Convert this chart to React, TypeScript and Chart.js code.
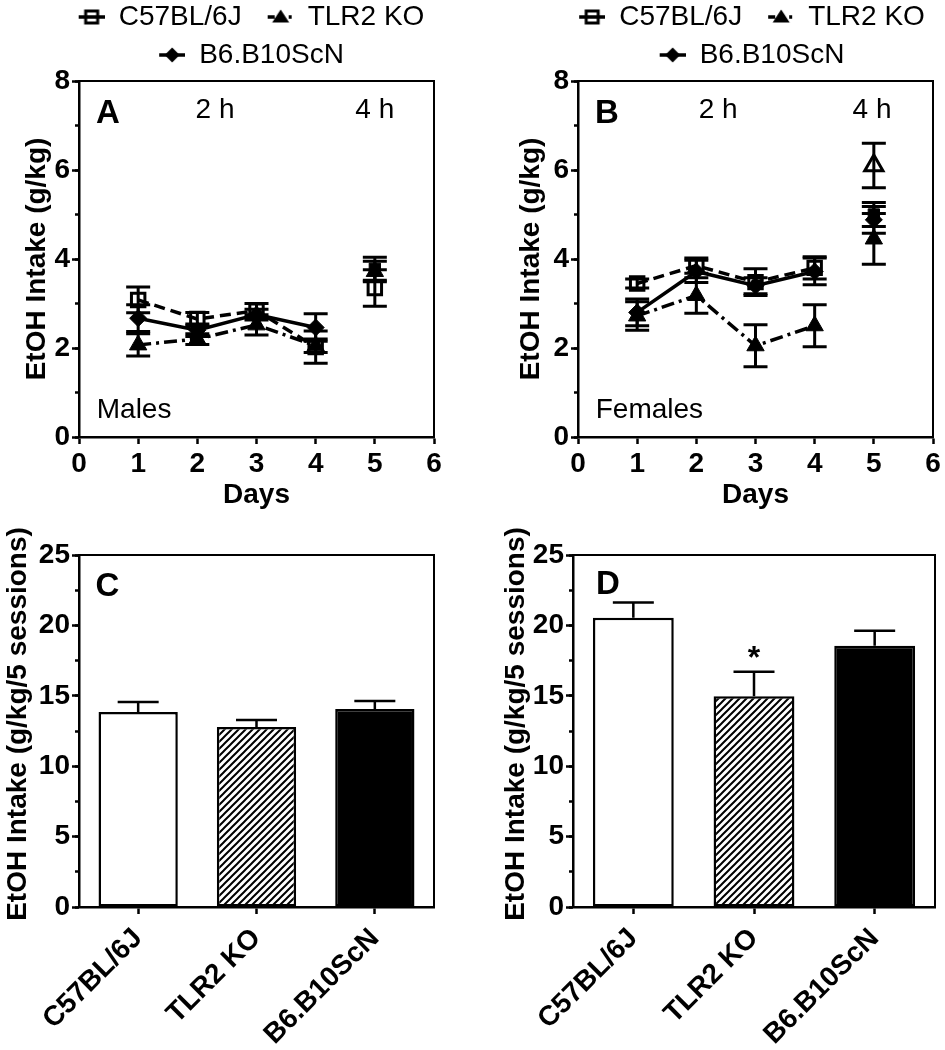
import React, { useEffect, useRef } from 'react';
import { Chart, registerables } from 'chart.js';

Chart.register(...registerables);

const FONT = '"Liberation Sans", Arial, Helvetica, sans-serif';

// ---------------- data ----------------
const strains = ['C57BL/6J', 'TLR2 KO', 'B6.B10ScN'];
const sessionDays = [1, 2, 3, 4];
const fourHourDay = 5;

// Panel A – males, 2 h sessions (days 1-4)
const maleC57 = [3.08, 2.65, 2.84, 2.02];
const maleC57Sem = [0.29, 0.15, 0.16, 0.36];
const maleTlr2 = [2.07, 2.2, 2.52, 2.05];
const maleTlr2Sem = [0.25, 0.12, 0.23, 0.15];
const maleB6 = [2.67, 2.4, 2.75, 2.46];
const maleB6Sem = [0.3, 0.14, 0.12, 0.31];
// Panel A – 4 h session (day 5)
const male4h = [3.35, 3.78, 3.72];
const male4hSem = [0.41, 0.26, 0.23];

// Panel B – females, 2 h sessions (days 1-4)
const femaleC57 = [3.45, 3.85, 3.48, 3.8];
const femaleC57Sem = [0.1, 0.17, 0.3, 0.25];
const femaleTlr2 = [2.72, 3.18, 2.05, 2.5];
const femaleTlr2Sem = [0.32, 0.4, 0.47, 0.47];
const femaleB6 = [2.8, 3.72, 3.4, 3.72];
const femaleB6Sem = [0.3, 0.25, 0.18, 0.3];
// Panel B – 4 h session (day 5)
const female4h = [6.1, 5.0, 4.88, 4.45];
const female4hSem = [0.5, 0.27, 0.3, 0.57];

// Panels C / D – total intake over 5 sessions
const maleTotals = [13.85, 12.78, 14.06];
const maleTotalsSem = [0.71, 0.5, 0.57];
const femaleTotals = [20.55, 14.97, 18.55];
const femaleTotalsSem = [1.07, 1.73, 1.07];

// ---------------- styles ----------------
type Marker = { style: string; filled: boolean; radius: number };
const seriesMarkers: Marker[] = [
  { style: 'rect', filled: false, radius: 9.5 },
  { style: 'triangle', filled: true, radius: 10 },
  { style: 'rectRot', filled: true, radius: 8.5 },
];
const seriesDash = [[11, 6], [13, 5, 3, 5], []];
const male4hMarkers: Marker[] = [
  { style: 'rect', filled: false, radius: 9.5 },
  { style: 'rect', filled: true, radius: 8 },
  { style: 'triangle', filled: true, radius: 10 },
];
const female4hMarkers: Marker[] = [
  { style: 'triangle', filled: false, radius: 10.5 },
  { style: 'rect', filled: true, radius: 8 },
  { style: 'rectRot', filled: true, radius: 8.5 },
  { style: 'triangle', filled: true, radius: 10 },
];

// ---------------- plugins ----------------
function drawErrors(chart: any, opts: any) {
  const ctx = chart.ctx;
  const yScale = chart.scales.y;
  const cap = opts.capWidth || 20;
  ctx.save();
  ctx.strokeStyle = '#000';
  ctx.lineWidth = opts.lineWidth || 2.5;
  ctx.setLineDash([]);
  chart.data.datasets.forEach((ds: any, di: number) => {
    const errs = ds.errors;
    if (!errs) return;
    const meta = chart.getDatasetMeta(di);
    meta.data.forEach((el: any, i: number) => {
      const raw = ds.data[i];
      const v = typeof raw === 'number' ? raw : raw.y;
      const e = errs[i];
      const x = el.x;
      const yTop = yScale.getPixelForValue(v + e);
      const yBot = yScale.getPixelForValue(opts.upOnly ? v : v - e);
      ctx.beginPath();
      ctx.moveTo(x, yBot);
      ctx.lineTo(x, yTop);
      ctx.moveTo(x - cap / 2, yTop);
      ctx.lineTo(x + cap / 2, yTop);
      if (!opts.upOnly) {
        ctx.moveTo(x - cap / 2, yBot);
        ctx.lineTo(x + cap / 2, yBot);
      }
      ctx.stroke();
    });
  });
  ctx.restore();
}

const errorBarPlugin = {
  id: 'errorBars',
  beforeDatasetsDraw(chart: any, _a: any, opts: any) {
    if (opts.phase === 'before') drawErrors(chart, opts);
  },
  afterDatasetsDraw(chart: any, _a: any, opts: any) {
    if (opts.phase === 'after') drawErrors(chart, opts);
  },
};

const textPlugin = {
  id: 'panelText',
  afterDraw(chart: any, _a: any, opts: any) {
    const ctx = chart.ctx;
    const area = chart.chartArea;
    (opts.items || []).forEach((it: any) => {
      ctx.save();
      ctx.font = `${it.bold ? 'bold ' : ''}${it.size}px ${FONT}`;
      ctx.fillStyle = '#000';
      ctx.textBaseline = 'middle';
      if (it.rotate) {
        const y = (area.top + area.bottom) / 2 + (it.dy || 0);
        ctx.translate(it.px, y);
        ctx.rotate(-Math.PI / 2);
        ctx.textAlign = 'center';
        ctx.fillText(it.text, 0, 0);
      } else {
        const x = chart.scales.x.getPixelForValue(it.x);
        const y = chart.scales.y.getPixelForValue(it.y);
        ctx.textAlign = it.align || 'center';
        ctx.fillText(it.text, x, y);
      }
      ctx.restore();
    });
  },
};

// ---------------- helpers ----------------
function legendSample(kind: number): HTMLCanvasElement {
  const c = document.createElement('canvas');
  c.width = 42;
  c.height = 24;
  const g = c.getContext('2d')!;
  g.strokeStyle = '#000';
  g.fillStyle = '#000';
  g.lineWidth = 3.5;
  const cx = 29;
  const cy = 12;
  g.beginPath();
  if (kind === 1) {
    g.moveTo(16, cy);
    g.lineTo(23, cy);
    g.moveTo(37, cy);
    g.lineTo(40, cy);
  } else {
    g.moveTo(16, cy);
    g.lineTo(42, cy);
  }
  g.stroke();
  if (kind === 0) {
    g.lineWidth = 3;
    g.strokeRect(cx - 6, cy - 6, 12, 12);
  } else if (kind === 1) {
    g.beginPath();
    g.moveTo(cx, cy - 7.5);
    g.lineTo(cx + 8.5, cy + 5.5);
    g.lineTo(cx - 8.5, cy + 5.5);
    g.closePath();
    g.fill();
  } else {
    g.beginPath();
    g.moveTo(cx, cy - 7.5);
    g.lineTo(cx + 7.5, cy);
    g.lineTo(cx, cy + 7.5);
    g.lineTo(cx - 7.5, cy);
    g.closePath();
    g.fill();
  }
  return c;
}

function makeHatch(ctx: CanvasRenderingContext2D): CanvasPattern {
  const s = 7;
  const c = document.createElement('canvas');
  c.width = s;
  c.height = s;
  const g = c.getContext('2d')!;
  g.fillStyle = '#fff';
  g.fillRect(0, 0, s, s);
  g.strokeStyle = '#000';
  g.lineWidth = 2;
  g.beginPath();
  g.moveTo(-1, s + 1);
  g.lineTo(s + 1, -1);
  g.moveTo(-1, 1);
  g.lineTo(1, -1);
  g.moveTo(s - 1, s + 1);
  g.lineTo(s + 1, s - 1);
  g.stroke();
  return ctx.createPattern(c, 'repeat')!;
}

const tickFont = { family: FONT, size: 28, weight: 'bold' as const };
const axisGrid = {
  display: true,
  drawOnChartArea: false,
  drawTicks: true,
  tickLength: 7,
  tickWidth: 2.5,
  tickColor: '#000',
};
const axisBorder = { display: true, color: '#000', width: 2.5 };

function minorAxis(max: number, step: number) {
  return {
    type: 'linear',
    position: 'left',
    display: true,
    weight: -1,
    min: 0,
    max,
    ticks: { display: false, stepSize: step, autoSkip: false },
    grid: { display: true, drawOnChartArea: false, drawTicks: true, tickLength: 4, tickWidth: 2.5, tickColor: '#000' },
    border: { display: false },
    afterFit: (s: any) => {
      s.width = 0;
    },
  };
}

function frameAxes(topHeight: number, rightWidth: number) {
  return {
    x2: {
      type: 'linear',
      position: 'top',
      display: true,
      min: 0,
      max: 1,
      ticks: { display: false },
      grid: { display: false },
      border: { display: true, color: '#000', width: 2 },
      afterFit: (s: any) => {
        s.height = topHeight;
      },
    },
    y2: {
      type: 'linear',
      position: 'right',
      display: true,
      min: 0,
      max: 1,
      ticks: { display: false },
      grid: { display: false },
      border: { display: true, color: '#000', width: 2 },
      afterFit: (s: any) => {
        s.width = rightWidth;
      },
    },
  };
}

function markerProps(m: Marker) {
  return {
    pointStyle: m.style,
    pointRadius: m.radius,
    pointHoverRadius: m.radius,
    pointBorderWidth: m.filled ? 1 : 3,
    pointBorderColor: '#000',
    pointBackgroundColor: m.filled ? '#000' : 'rgba(255,255,255,0)',
  };
}

type LineSpec = {
  series: number[][];
  sems: number[][];
  fh: number[];
  fhSem: number[];
  fhMarkers: Marker[];
  padLeft: number;
  yWidth: number;
  titlePad: number;
  rightWidth: number;
  texts: any[];
};

function lineConfig(p: LineSpec): any {
  const lineSets = p.series.map((vals, si) => ({
    label: strains[si],
    xAxisID: 'x',
    yAxisID: 'y',
    data: sessionDays.map((d, i) => ({ x: d, y: vals[i] })),
    errors: p.sems[si],
    borderColor: '#000',
    borderWidth: 3.5,
    borderDash: seriesDash[si],
    showLine: true,
    fill: false,
    tension: 0,
    clip: false,
    ...markerProps(seriesMarkers[si]),
  }));
  const fhSets = p.fh.map((v, i) => ({
    label: '4 h',
    xAxisID: 'x',
    yAxisID: 'y',
    data: [{ x: fourHourDay, y: v }],
    errors: [p.fhSem[i]],
    showLine: false,
    borderColor: '#000',
    clip: false,
    ...markerProps(p.fhMarkers[i]),
  }));
  const samples = [0, 1, 2].map((k) => legendSample(k));
  return {
    type: 'line',
    data: { datasets: [...lineSets, ...fhSets] },
    plugins: [errorBarPlugin, textPlugin],
    options: {
      responsive: false,
      animation: false,
      devicePixelRatio: 1,
      events: [],
      layout: { autoPadding: false, padding: { left: p.padLeft, right: 0, top: 0, bottom: 0 } },
      plugins: {
        tooltip: { enabled: false },
        legend: {
          display: true,
          position: 'top',
          align: 'center',
          labels: {
            usePointStyle: true,
            pointStyleWidth: 42,
            padding: 10,
            color: '#000',
            font: { family: FONT, size: 28 },
            generateLabels: () =>
              strains.map((s, i) => ({
                text: s,
                pointStyle: samples[i],
                fillStyle: '#000',
                strokeStyle: '#000',
                lineWidth: 0,
                hidden: false,
                datasetIndex: i,
                fontColor: '#000',
              })),
          },
        },
        errorBars: { phase: 'before', capWidth: 24, lineWidth: 3 },
        panelText: { items: p.texts },
      },
      scales: {
        x: {
          type: 'linear',
          position: 'bottom',
          min: 0,
          max: 6,
          afterFit: (s: any) => {
            s.height = 83;
          },
          ticks: { stepSize: 1, color: '#000', font: tickFont, padding: 3, maxRotation: 0, autoSkip: false },
          grid: axisGrid,
          border: axisBorder,
          title: {
            display: true,
            text: 'Days',
            color: '#000',
            font: tickFont,
            padding: { top: 0, bottom: 8 },
          },
        },
        y: {
          type: 'linear',
          position: 'left',
          min: 0,
          max: 8,
          afterFit: (s: any) => {
            s.width = p.yWidth;
          },
          ticks: {
            stepSize: 2,
            autoSkip: false,
            color: '#000',
            font: tickFont,
            padding: 2,
          },
          grid: axisGrid,
          border: axisBorder,
          title: {
            display: true,
            text: 'EtOH Intake (g/kg)',
            color: '#000',
            font: tickFont,
            padding: { top: p.titlePad, bottom: 0 },
          },
        },
        yMinor: minorAxis(8, 1),
        ...frameAxes(2, p.rightWidth),
      },
    },
  };
}

type BarSpec = {
  totals: number[];
  sems: number[];
  yWidth: number;
  rightWidth: number;
  titleX: number;
  texts: any[];
};

function barConfig(p: BarSpec, ctx: CanvasRenderingContext2D): any {
  const hatch = makeHatch(ctx);
  return {
    type: 'bar',
    data: {
      labels: strains,
      datasets: [
        {
          xAxisID: 'x',
          yAxisID: 'y',
          data: p.totals,
          errors: p.sems,
          backgroundColor: ['#ffffff', hatch, '#000000'],
          borderColor: '#000',
          borderWidth: 2.5,
          borderSkipped: false,
          barPercentage: 0.67,
          categoryPercentage: 1,
        },
      ],
    },
    plugins: [errorBarPlugin, textPlugin],
    options: {
      responsive: false,
      animation: false,
      devicePixelRatio: 1,
      events: [],
      layout: { autoPadding: false, padding: { left: 0, right: 0, top: 35, bottom: 0 } },
      plugins: {
        tooltip: { enabled: false },
        legend: { display: false },
        errorBars: { phase: 'after', upOnly: true, capWidth: 41, lineWidth: 2.5 },
        panelText: {
          items: [
            ...p.texts,
            { text: 'EtOH Intake (g/kg/5 sessions)', px: p.titleX, rotate: true, dy: -7, size: 28, bold: true },
          ],
        },
      },
      scales: {
        x: {
          type: 'category',
          offset: true,
          afterFit: (s: any) => {
            s.height = 143;
          },
          ticks: { color: '#000', font: tickFont, minRotation: 45, maxRotation: 45, padding: 8, autoSkip: false },
          grid: { ...axisGrid, offset: false },
          border: axisBorder,
        },
        y: {
          type: 'linear',
          position: 'left',
          min: 0,
          max: 25,
          afterFit: (s: any) => {
            s.width = p.yWidth;
          },
          ticks: {
            stepSize: 5,
            autoSkip: false,
            color: '#000',
            font: tickFont,
            padding: 2,
          },
          grid: axisGrid,
          border: axisBorder,
        },
        yMinor: minorAxis(25, 2.5),
        ...frameAxes(0, p.rightWidth),
      },
    },
  };
}

function Panel(props: { left: number; top: number; width: number; height: number; build: (ctx: CanvasRenderingContext2D) => any }) {
  const ref = useRef<HTMLCanvasElement>(null);
  useEffect(() => {
    const canvas = ref.current!;
    const chart = new Chart(canvas, props.build(canvas.getContext('2d')!));
    return () => chart.destroy();
  }, []);
  return (
    <canvas
      ref={ref}
      width={props.width}
      height={props.height}
      style={{ position: 'absolute', left: props.left, top: props.top, width: props.width, height: props.height }}
    />
  );
}

export default function App() {
  return (
    <div style={{ position: 'absolute', left: 0, top: 0, width: 945, height: 1050, overflow: 'hidden', background: '#fff' }}>
      <Panel
        left={0}
        top={-7}
        width={470}
        height={527}
        build={() =>
          lineConfig({
            series: [maleC57, maleTlr2, maleB6],
            sems: [maleC57Sem, maleTlr2Sem, maleB6Sem],
            fh: male4h,
            fhSem: male4hSem,
            fhMarkers: male4hMarkers,
            padLeft: 17,
            yWidth: 62,
            titlePad: 3.2,
            rightWidth: 36,
            texts: [
              { text: 'A', x: 0.49, y: 7.26, size: 33, bold: true },
              { text: '2 h', x: 2.3, y: 7.35, size: 28 },
              { text: '4 h', x: 5.0, y: 7.35, size: 28 },
              { text: 'Males', x: 0.3, y: 0.6, size: 28, align: 'left' },
            ],
          })
        }
      />
      <Panel
        left={470}
        top={-7}
        width={475}
        height={527}
        build={() =>
          lineConfig({
            series: [femaleC57, femaleTlr2, femaleB6],
            sems: [femaleC57Sem, femaleTlr2Sem, femaleB6Sem],
            fh: female4h,
            fhSem: female4hSem,
            fhMarkers: female4hMarkers,
            padLeft: 73,
            yWidth: 35,
            titlePad: -28.8,
            rightWidth: 12,
            texts: [
              { text: 'B', x: 0.49, y: 7.26, size: 33, bold: true },
              { text: '2 h', x: 2.37, y: 7.35, size: 28 },
              { text: '4 h', x: 4.97, y: 7.35, size: 28 },
              { text: 'Females', x: 0.3, y: 0.6, size: 28, align: 'left' },
            ],
          })
        }
      />
      <Panel
        left={0}
        top={520}
        width={470}
        height={530}
        build={(ctx) =>
          barConfig(
            {
              totals: maleTotals,
              sems: maleTotalsSem,
              yWidth: 79,
              rightWidth: 36,
              titleX: 18,
              texts: [{ text: 'C', x: -0.26, y: 22.7, size: 33, bold: true }],
            },
            ctx
          )
        }
      />
      <Panel
        left={470}
        top={520}
        width={475}
        height={530}
        build={(ctx) =>
          barConfig(
            {
              totals: femaleTotals,
              sems: femaleTotalsSem,
              yWidth: 103,
              rightWidth: 10,
              titleX: 46,
              texts: [
                { text: 'D', x: -0.21, y: 22.9, size: 33, bold: true },
                { text: '*', x: 1, y: 17.6, size: 32, bold: true },
              ],
            },
            ctx
          )
        }
      />
    </div>
  );
}
